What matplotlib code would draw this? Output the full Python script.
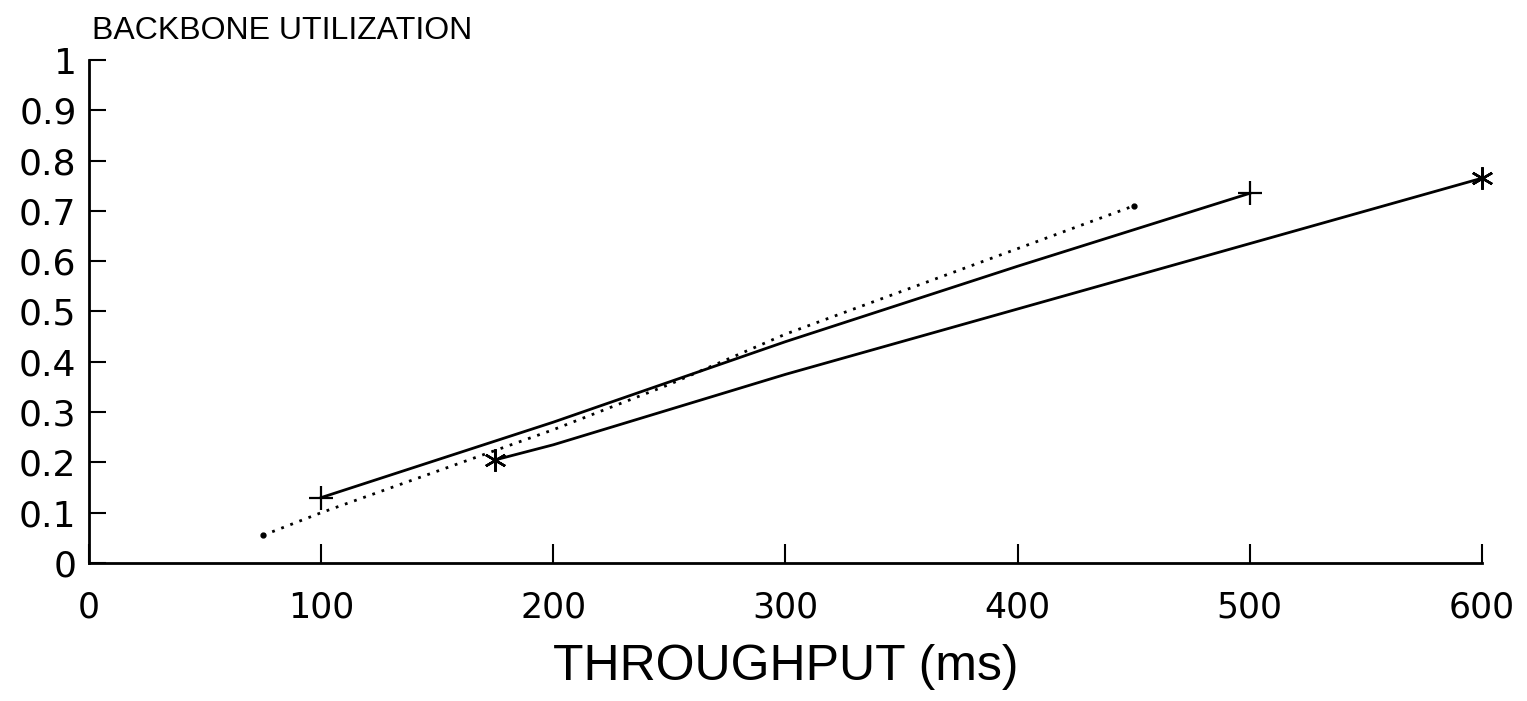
from matplotlib import pyplot as plt

# Series
x_plus = [100, 200, 300, 400, 500]
y_plus = [0.13, 0.28, 0.44, 0.59, 0.735]

x_star = [175, 200, 300, 400, 500, 600]
y_star = [0.205, 0.235, 0.375, 0.505, 0.635, 0.765]

x_dot = [75, 100, 200, 250, 300, 400, 450]
y_dot = [0.055, 0.10, 0.265, 0.355, 0.455, 0.625, 0.71]

x_ticks = [0, 100, 200, 300, 400, 500, 600]
y_ticks = [0, 0.1, 0.2, 0.3, 0.4, 0.5, 0.6, 0.7, 0.8, 0.9, 1]
y_labels = ['0', '0.1', '0.2', '0.3', '0.4', '0.5', '0.6', '0.7', '0.8', '0.9', '1']

plt.rcParams['font.family'] = ['DejaVu Sans']
narrow = ['Liberation Sans', 'DejaVu Sans']

fig = plt.figure(figsize=(15.27, 7.01), dpi=100)
ax = fig.add_axes([0.0583, 0.1969, 0.9122, 0.7175])

# Lines with markers only at the ends
ax.plot(x_plus, y_plus, color='black', lw=2)
ax.plot([x_plus[0], x_plus[-1]], [y_plus[0], y_plus[-1]], ls='none',
        marker='+', ms=17, mew=1.6, color='black', clip_on=False)

ax.plot(x_star, y_star, color='black', lw=2)
ax.plot([x_star[0], x_star[-1]], [y_star[0], y_star[-1]], ls='none',
        marker=(6, 2, 0), ms=16, mew=1.8, color='black', clip_on=False)

ax.plot(x_dot, y_dot, color='black', lw=2, ls=(0, (1, 2.5)))
ax.plot([x_dot[0], x_dot[-1]], [y_dot[0], y_dot[-1]], ls='none',
        marker='o', ms=3.5, color='black', clip_on=False)

ax.set_xlim(0, 600)
ax.set_ylim(0, 1)

ax.spines['right'].set_visible(False)
ax.spines['top'].set_visible(False)
ax.spines['left'].set_linewidth(2)
ax.spines['bottom'].set_linewidth(2)

ax.set_xticks(x_ticks)
ax.set_yticks(y_ticks)
ax.set_yticklabels(y_labels)
ax.tick_params(axis='x', direction='in', length=14, width=1.5, pad=20, labelsize=25)
ax.tick_params(axis='y', direction='in', length=12, width=1.5, pad=9, labelsize=26)

ax.set_xlabel('THROUGHPUT (ms)', fontsize=36, labelpad=14, family=narrow)
fig.text(0.060, 0.935, 'BACKBONE UTILIZATION', fontsize=23, ha='left', va='bottom',
         family=narrow)

fig.savefig('out.png', dpi=100)
